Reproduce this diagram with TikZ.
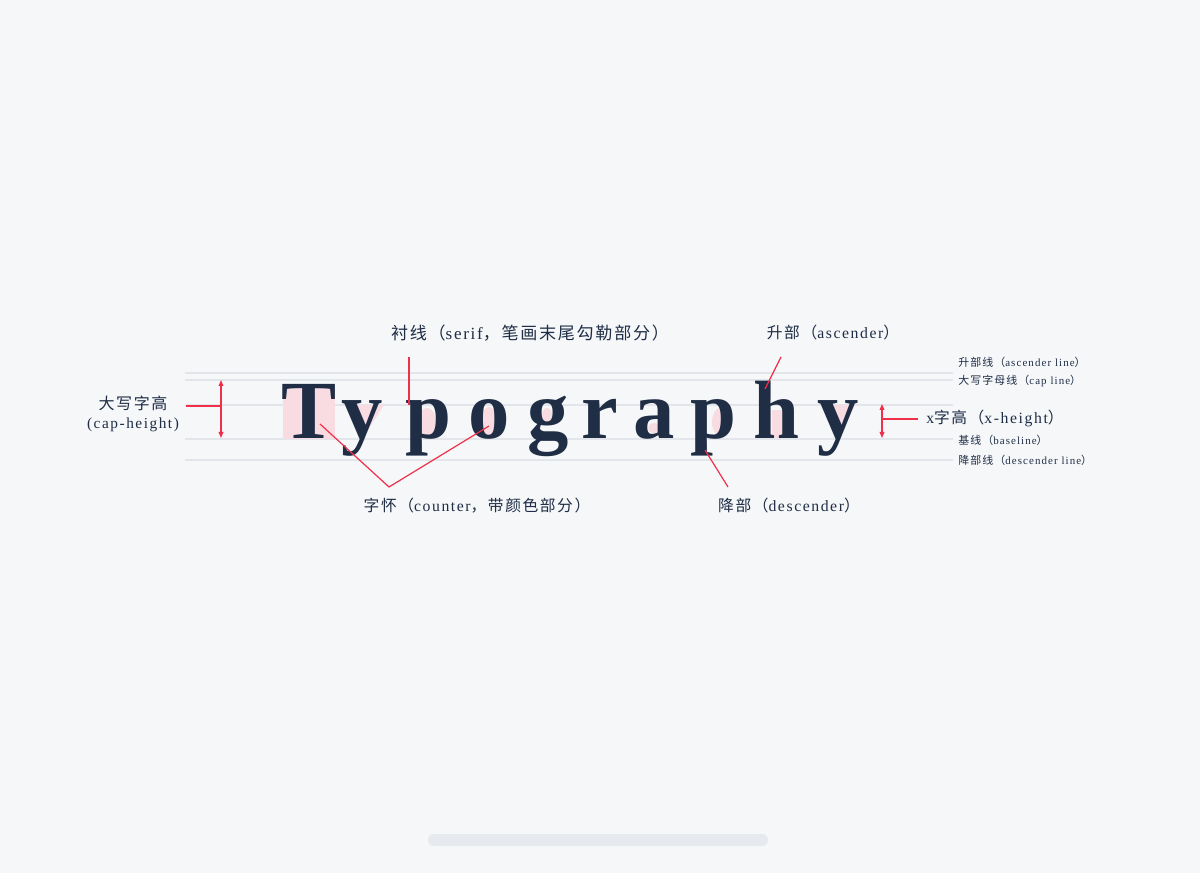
\documentclass[tikz,border=0pt]{standalone}
\usepackage{fontspec}
\setmainfont{Liberation Serif}
\newfontfamily\cjk[LetterSpace=10]{Noto Sans CJK SC}
\newfontfamily\labfont[LetterSpace=10]{Liberation Serif}
\usetikzlibrary{arrows.meta,positioning}
\definecolor{bg}{HTML}{F5F7F9}
\definecolor{guideline}{HTML}{E2E5E9}
\definecolor{counterpink}{HTML}{F9DCE2}
\definecolor{leadred}{HTML}{F0304A}
\definecolor{ink}{HTML}{1F2D45}
\definecolor{barcol}{HTML}{E6E9EE}

\begin{document}
\begin{tikzpicture}[x=0.75pt,y=-0.75pt,
 lbl/.style={inner sep=0pt,text=ink,font=\labfont\fontsize{11.8}{13}\selectfont},
 tiny/.style={lbl,anchor=west,font=\labfont\fontsize{8.2}{9}\selectfont},
 glyph/.style={anchor=base,inner sep=0pt,text=ink,font=\bfseries\fontsize{62}{62}\selectfont},
 guide/.style={guideline,line width=0.8pt},
 lead/.style={leadred,line width=0.9pt},
 dim/.style={leadred,line width=0.9pt,{Triangle[length=4.5pt,width=3.5pt]}-{Triangle[length=4.5pt,width=3.5pt]}}]
\useasboundingbox[fill=bg] (0,0) rectangle (1200,873);
% guide lines
\foreach \gy in {373,380,405,439,460}
  \draw[guide] (185,\gy) -- (953,\gy);
% counters
\fill[counterpink] (283,387) rectangle (335,439);
\fill[counterpink] (352,405) -- (384,405) -- (368,430) -- cycle;
\fill[counterpink] (427,422) ellipse (9 and 14);
\fill[counterpink] (489,421) ellipse (8 and 14);
\fill[counterpink] (547,415) ellipse (5 and 7);
\fill[counterpink] (654,428) ellipse (6 and 5);
\fill[counterpink] (720,422) ellipse (8 and 14);
\fill[counterpink] (772,410) rectangle (786,438);
\fill[counterpink] (830,405) -- (855,405) -- (844,428) -- cycle;
% letters
\node[glyph] (T) at (309,439) {T};
\node[glyph] (y1) at (362,439) {y};
\node[glyph] (p1) at (428,439) {p};
\node[glyph] (o) at (489,439) {o};
\node[glyph] (g) at (548,439) {g};
\node[glyph] (r) at (600,439) {r};
\node[glyph] (a) at (654,439) {a};
\node[glyph] (p2) at (713,439) {p};
\node[glyph] (h) at (776,439) {h};
\node[glyph] (y2) at (838,439) {y};
% labels
\node[lbl,font=\labfont\fontsize{12.8}{14}\selectfont] (serif) at (530,333) {{\cjk 衬线（}serif{\cjk ，笔画末尾勾勒部分）}};
\node[lbl] (asc) at (833,333) {{\cjk 升部（}ascender{\cjk ）}};
\node[lbl] (counter) at (477,506) {{\cjk 字怀（}counter{\cjk ，带颜色部分）}};
\node[lbl] (desc) at (789,506) {{\cjk 降部（}descender{\cjk ）}};
\node[lbl,font=\labfont\fontsize{12}{14}\selectfont] (caph) at (133,403) {\cjk 大写字高};
\node[lbl,below=5pt of caph,font=\labfont\fontsize{11.5}{13}\selectfont] (capen) {(cap-height)};
\node[lbl,anchor=west] (xh) at (926,418) {x{\cjk 字高（}x-height{\cjk ）}};
\node[tiny] (ascl) at (958,362) {{\cjk 升部线（}ascender line{\cjk ）}};
\node[tiny] (capl) at (958,381) {{\cjk 大写字母线（}cap line{\cjk ）}};
\node[tiny] (basel) at (958,440) {{\cjk 基线（}baseline{\cjk ）}};
\node[tiny] (descl) at (958,460) {{\cjk 降部线（}descender line{\cjk ）}};
% leader points
\coordinate (serifA) at (409,357);
\coordinate (serifB) at (409,405);
\coordinate (ascA) at (781,357);
\coordinate (ascB) at (765,389);
\coordinate (descA) at (705,450);
\coordinate (descB) at (728,487);
\coordinate (cntT) at (320,424);
\coordinate (cntV) at (389,487);
\coordinate (cntO) at (489,426);
\draw[lead] (serifA) -- (serifB);
\draw[lead] (ascA) -- (ascB);
\draw[lead] (descA) -- (descB);
\draw[lead] (cntT) -- (cntV) -- (cntO);
% height marks
\coordinate (capT) at (221,380);
\coordinate (capB) at (221,438);
\coordinate (capM) at (221,406);
\coordinate (capL) at (186,406);
\draw[dim] (capT) -- (capB);
\draw[lead] (capL) -- (capM);
\coordinate (xT) at (882,404);
\coordinate (xB) at (882,438);
\coordinate (xM) at (882,419);
\coordinate (xR) at (918,419);
\draw[dim] (xT) -- (xB);
\draw[lead] (xM) -- (xR);
% bottom bar
\fill[barcol,rounded corners=4.5pt] (428,834) rectangle (768,846);
\end{tikzpicture}
\end{document}
